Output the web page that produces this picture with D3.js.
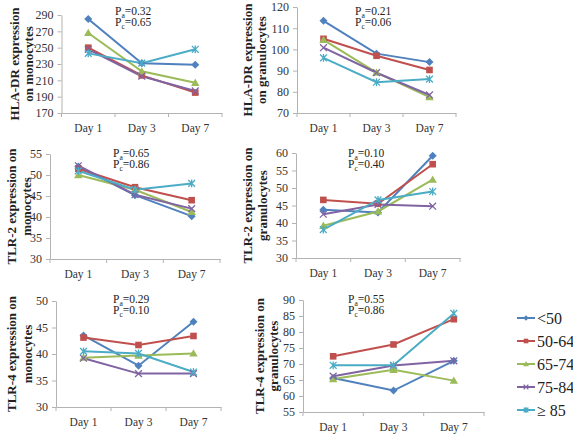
<!DOCTYPE html>
<html><head><meta charset="utf-8">
<script src="https://cdn.jsdelivr.net/npm/d3@7"></script>
<style>body{margin:0;background:#fff}svg{display:block}svg text{font-family:"Liberation Serif","DejaVu Serif",serif}</style>
</head><body>
<svg id="c" width="573" height="435"></svg>
<script>
// ---- data ----
const days = ["Day 1", "Day 3", "Day 7"];
const groups = ["<50", "50-64", "65-74", "75-84", "\u2265 85"];
const colors = ["#4F81BD", "#C0504D", "#9BBB59", "#8064A2", "#4BACC6"];

const hlaMono = [[285, 231, 229], [250, 216, 195], [268, 221, 207], [248, 215, 197], [243, 231, 248]];
const hlaGran = [[113.5, 98, 94], [105, 97, 90.3], [104.5, 89, 77.5], [100.8, 89, 78.5], [96, 84.5, 86]];
const tlr2Mono = [[52, 45.2, 40.2], [51.5, 47.1, 44], [50, 46.5, 41.2], [52.2, 45.3, 42], [51, 46.5, 48]];
const tlr2Gran = [[43.8, 43, 59.2], [46.6, 45.5, 56.8], [39.2, 43.3, 52.4], [42.5, 45.3, 44.8], [38.1, 46.6, 49]];
const tlr4Mono = [[43.5, 37.8, 46.1], [43.1, 41.7, 43.4], [39.3, 39.7, 40.1], [39.2, 36.3, 36.3], [40.5, 40.1, 36.6]];
const tlr4Gran = [[65.6, 61.7, 71], [72.4, 76.1, 84], [65.3, 68.2, 64.8], [66.2, 69.5, 71], [69.6, 69.6, 85.8]];

const ticksHlaMono = [170, 190, 210, 230, 250, 270, 290];
const ticksHlaGran = [70, 80, 90, 100, 110, 120];
const ticksTlr2Mono = [30, 35, 40, 45, 50, 55];
const ticksTlr2Gran = [30, 35, 40, 45, 50, 55, 60];
const ticksTlr4Mono = [30, 35, 40, 45, 50];
const ticksTlr4Gran = [55, 60, 65, 70, 75, 80, 85, 90];

const pA = ["0.32", "0.21", "0.65", "0.10", "0.29", "0.55"];
const pC = ["0.65", "0.06", "0.86", "0.40", "0.10", "0.86"];

const titles = [
  ["HLA-DR expression", "on monocytes"],
  ["HLA-DR expression", "on granulocytes"],
  ["TLR-2 expression on", "monocytes"],
  ["TLR-2 expression on", "granulocytes"],
  ["TLR-4 expression on", "monocytes"],
  ["TLR-4 expression on", "granulocytes"]
];

// ---- layout ----
const panels = [
  {data: hlaMono, ticks: ticksHlaMono, x: [61.5, 222], y: [113, 15], t: [14, 28], px: 115, py: 15},
  {data: hlaGran, ticks: ticksHlaGran, x: [297, 456], y: [113, 7], t: [247, 261], px: 355, py: 15},
  {data: tlr2Mono, ticks: ticksTlr2Mono, x: [50, 220], y: [259, 154], t: [11, 26], px: 113, py: 157},
  {data: tlr2Gran, ticks: ticksTlr2Gran, x: [296, 460], y: [258, 153], t: [247, 262], px: 348, py: 157},
  {data: tlr4Mono, ticks: ticksTlr4Mono, x: [56, 221], y: [407, 301], t: [11, 27], px: 113, py: 303},
  {data: tlr4Gran, ticks: ticksTlr4Gran, x: [303, 484], y: [412, 300], t: [259, 273], px: 348, py: 303}
];

const svg = d3.select("#c");
const axisCol = "#b3b3b3";

function marker(sel, i, col, sc) {
  sc = sc || 1;
  const h = 3.4 * sc;
  let d;
  if (i === 0) { const r = 4 * sc; d = `M0,${-r}L${r},0L0,${r}L${-r},0Z`; }
  else if (i === 1) { const r = 3.3 * sc; d = `M${-r},${-r}H${r}V${r}H${-r}Z`; }
  else if (i === 2) { const r = 4.2 * sc; d = `M0,${-r}L${r},${r * 0.75}L${-r},${r * 0.75}Z`; }
  if (d) { sel.append("path").attr("d", d).attr("fill", col); return; }
  if (i === 3) sel.append("path").attr("d", `M${-h},${-h}L${h},${h}M${-h},${h}L${h},${-h}`).attr("stroke", col).attr("stroke-width", 1.3).attr("fill", "none");
  else sel.append("path").attr("d", `M${-h},${-h}L${h},${h}M${-h},${h}L${h},${-h}M0,${-h - 0.5}L0,${h + 0.5}`).attr("stroke", col).attr("stroke-width", 1.3).attr("fill", "none");
}

panels.forEach((p, k) => {
  const xs = d3.scaleBand().domain(days).range(p.x).padding(0);
  const ext = d3.extent(p.ticks);
  const ys = d3.scaleLinear().domain(ext).range(p.y);
  const g = svg.append("g");

  // y axis
  const ya = g.append("g").attr("transform", `translate(${p.x[0]},0)`)
    .call(d3.axisLeft(ys).tickValues(p.ticks).tickSize(4).tickPadding(4).tickSizeOuter(0));
  ya.attr("font-family", null);
  ya.select(".domain").attr("stroke", axisCol);
  ya.selectAll(".tick line").attr("stroke", axisCol);
  ya.selectAll("text").attr("font-size", 12).attr("fill", "#333");

  // x axis
  const xa = g.append("g").attr("transform", `translate(0,${p.y[0]})`)
    .call(d3.axisBottom(xs).tickSize(0).tickPadding(11));
  xa.attr("font-family", null);
  xa.select(".domain").attr("stroke", axisCol);
  xa.selectAll("text").attr("font-size", 11.5).attr("fill", "#333");
  const bounds = days.map(d => xs(d)).concat([xs(days[2]) + xs.bandwidth()]);
  xa.selectAll(".bt").data(bounds).enter().append("line")
    .attr("x1", d => d).attr("x2", d => d).attr("y1", 0).attr("y2", 4).attr("stroke", axisCol);

  // axis title
  const cy = (p.y[0] + p.y[1]) / 2;
  titles[k].forEach((t, j) => {
    g.append("text").attr("transform", `translate(${p.t[j]},${cy}) rotate(-90)`)
      .attr("text-anchor", "middle").attr("dominant-baseline", "central")
      .attr("font-weight", "bold").attr("font-size", 13).attr("fill", "#222")
      .text(t);
  });

  // p values
  [["a", pA[k]], ["c", pC[k]]].forEach((pv, j) => {
    const by = p.py + j * 10.5;
    const tx = g.append("text").attr("x", p.px).attr("y", by)
      .attr("font-size", 11.5).attr("fill", "#222");
    tx.append("tspan").attr("y", by).text("P");
    tx.append("tspan").attr("y", by + 3).attr("font-size", 7.5).text(pv[0]);
    tx.append("tspan").attr("y", by).text("=" + pv[1]);
  });

  // series
  const line = d3.line().x((d, i) => xs(days[i]) + xs.bandwidth() / 2).y(d => ys(d));
  p.data.forEach((s, i) => {
    g.append("path").attr("d", line(s)).attr("fill", "none").attr("stroke", colors[i]).attr("stroke-width", 2);
  });
  p.data.forEach((s, i) => {
    s.forEach((v, j) => {
      const m = g.append("g").attr("transform", `translate(${xs(days[j]) + xs.bandwidth() / 2},${ys(v)})`);
      marker(m, i, colors[i]);
    });
  });
});

// legend
const lg = svg.append("g");
groups.forEach((name, i) => {
  const y = 318 + i * 23;
  lg.append("line").attr("x1", 517).attr("x2", 535).attr("y1", y).attr("y2", y)
    .attr("stroke", colors[i]).attr("stroke-width", 2);
  const m = lg.append("g").attr("transform", `translate(526,${y})`);
  marker(m, i, colors[i], 0.7);
  lg.append("text").attr("x", 537).attr("y", y).attr("dominant-baseline", "central")
    .attr("font-size", 16).attr("fill", "#222").text(name);
});
</script>
</body></html>
